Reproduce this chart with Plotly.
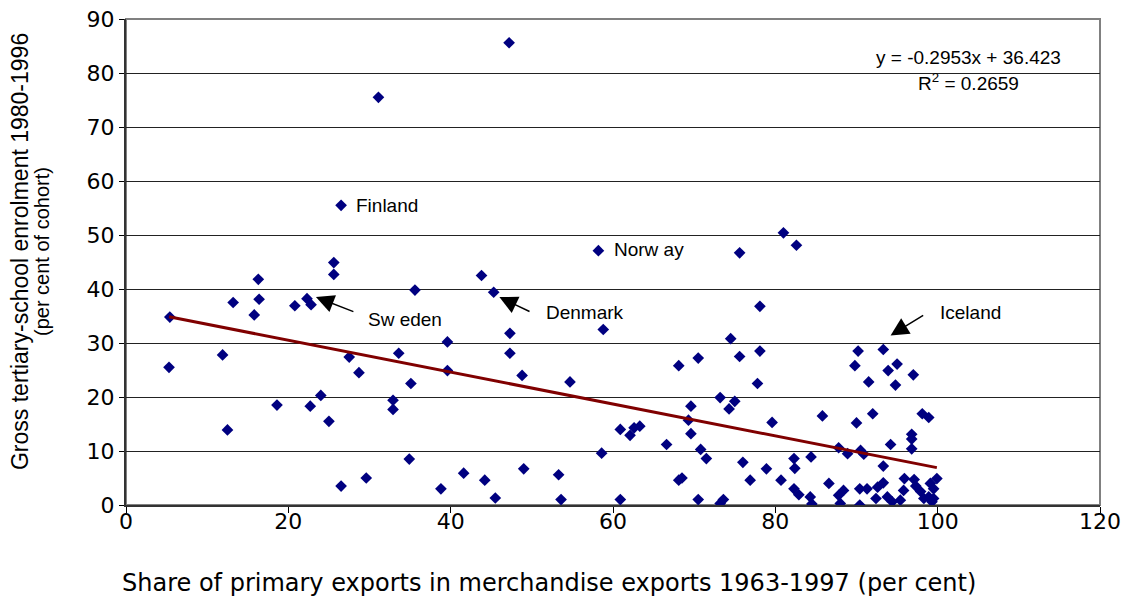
import plotly.graph_objects as go

# Share of primary exports (x) vs gross tertiary-school enrolment (y)
primary_share = [
    5.3, 5.4, 11.9, 12.5, 13.2, 15.8, 16.3, 16.4, 18.6, 20.8,
    22.3, 22.8, 22.7, 24.0, 25.0, 25.6, 25.6, 26.5, 26.5, 27.5,
    28.7, 29.6, 31.1, 32.9, 32.9, 33.6, 34.9, 35.1, 35.6, 38.8,
    39.6, 39.6, 41.6, 43.8, 44.2, 45.3, 45.5, 47.2, 47.3, 47.3,
    48.8, 49.0, 53.3, 53.6, 54.7, 58.2, 58.6, 58.8, 60.9, 60.9,
    62.1, 62.6, 63.3, 66.6, 68.1, 68.1, 68.5, 69.3, 69.6, 69.6,
    70.5, 70.5, 70.8, 71.5, 73.2, 73.2, 73.6, 74.3, 74.5, 75.0,
    75.6, 75.6, 76.0, 76.9, 77.8, 78.1, 78.1, 78.9, 79.6, 80.7,
    81.0, 82.6, 82.3, 82.4, 82.3, 82.9, 84.3, 84.4, 84.5, 85.8,
    86.6, 87.8, 87.8, 88.0, 88.4, 88.9, 89.8, 90.0, 90.2, 90.4,
    90.4, 90.5, 90.9, 91.3, 91.5, 92.0, 92.4, 92.6, 93.3, 93.3,
    93.3, 93.8, 93.9, 94.2, 94.4, 94.8, 95.0, 95.4, 95.8, 95.9,
    96.8, 96.8, 96.8, 97.0, 97.1, 97.3, 97.9, 98.1, 98.3, 98.9,
    98.9, 99.1, 99.3, 99.5, 99.5, 99.9,
]
enrolment = [
    25.5, 34.8, 27.8, 13.9, 37.5, 35.2, 41.8, 38.1, 18.5, 36.9,
    38.2, 37.1, 18.3, 20.3, 15.5, 44.9, 42.7, 55.5, 3.5, 27.4,
    24.5, 5.0, 75.5, 19.4, 17.7, 28.1, 8.5, 22.5, 39.8, 3.0,
    30.2, 24.9, 5.9, 42.5, 4.6, 39.4, 1.3, 85.6, 31.8, 28.1,
    24.0, 6.7, 5.6, 1.0, 22.8, 47.1, 9.6, 32.5, 14.0, 1.0,
    12.9, 14.3, 14.6, 11.2, 25.8, 4.6, 5.0, 15.7, 18.3, 13.2,
    27.2, 1.0, 10.3, 8.6, 19.9, 0.3, 1.0, 17.8, 30.8, 19.2,
    27.5, 46.7, 7.9, 4.6, 22.5, 36.8, 28.5, 6.7, 15.3, 4.6,
    50.4, 48.1, 8.6, 6.8, 3.0, 1.9, 1.5, 8.9, 0.2, 16.5,
    4.0, 10.6, 1.8, 0.3, 2.7, 9.5, 25.8, 15.2, 28.5, 3.0,
    0.0, 10.1, 9.4, 3.0, 22.8, 16.9, 1.2, 3.3, 28.8, 7.2,
    4.1, 1.5, 24.9, 11.2, 0.6, 22.2, 26.1, 0.9, 2.7, 4.9,
    13.1, 12.2, 10.4, 24.1, 4.7, 3.5, 2.5, 16.9, 1.2, 16.2,
    1.5, 4.0, 0.6, 1.2, 3.0, 4.9,
]

# linear trend reported on the chart
slope = -0.2953
intercept = 36.423
trend_x = [min(primary_share), max(primary_share)]
trend_y = [slope * v + intercept for v in trend_x]

x_ticks = [0, 20, 40, 60, 80, 100, 120]
y_ticks = [0, 10, 20, 30, 40, 50, 60, 70, 80, 90]

FONT = "Liberation Sans, Arial, sans-serif"
WIDE = "DejaVu Sans, Verdana, sans-serif"

fig = go.Figure()

fig.add_trace(go.Scatter(
    x=primary_share, y=enrolment, mode='markers',
    marker=dict(symbol='diamond', size=9, color='#000080'),
    showlegend=False, hoverinfo='x+y'
))

fig.add_trace(go.Scatter(
    x=trend_x, y=trend_y, mode='lines',
    line=dict(color='#800000', width=3),
    showlegend=False, hoverinfo='skip'
))

txt = dict(size=19, color='black', family=FONT)
annotations = [
    dict(x=28.1, y=55.5, text="Finland", showarrow=False, xanchor='left', font=txt),
    dict(x=59.9, y=47.3, text="Norw ay", showarrow=False, xanchor='left', font=txt),
    dict(x=34.4, y=34.3, text="Sw eden", showarrow=False, font=txt),
    dict(x=56.5, y=35.6, text="Denmark", showarrow=False, font=txt),
    dict(x=104.1, y=35.6, text="Iceland", showarrow=False, font=txt),
    dict(x=115.5, y=82.9, text="y = -0.2953x + 36.423", showarrow=False,
         xanchor='right', font=txt),
    dict(x=103.8, y=78.3, text="R<sup>2</sup> = 0.2659", showarrow=False, font=txt),
    # axis titles
    dict(x=0.434, y=-0.1605, xref='paper', yref='paper', showarrow=False,
         xanchor='center', yanchor='middle',
         text="Share of primary exports in merchandise exports 1963-1997 (per cent)",
         font=dict(size=24, color='black', family=WIDE)),
    dict(x=-0.1088, y=0.5206, xref='paper', yref='paper', showarrow=False, textangle=-90,
         xanchor='center', yanchor='middle',
         text="Gross tertiary-school enrolment 1980-1996", font=dict(size=23, color='black', family=FONT)),
    dict(x=-0.0862, y=0.5206, xref='paper', yref='paper', showarrow=False, textangle=-90,
         xanchor='center', yanchor='middle',
         text="(per cent of cohort)", font=dict(size=20, color='black', family=FONT)),
]
# arrows: (head_x, head_y, tail_x, tail_y)
arrows = [(23.4, 38.5, 28.2, 35.7), (46.0, 38.5, 49.9, 35.7), (94.2, 31.4, 98.4, 35.3)]
for hx, hy, tx, ty in arrows:
    annotations.append(dict(
        x=hx, y=hy, ax=tx, ay=ty, xref='x', yref='y', axref='x', ayref='y',
        text="", showarrow=True, arrowhead=2, arrowsize=2.4, arrowwidth=1.5,
        arrowcolor='black'
    ))

fig.update_layout(
    width=1133, height=602,
    margin=dict(l=118, r=41, t=11, b=105),
    paper_bgcolor='white', plot_bgcolor='white',
    font=dict(family=FONT, size=22, color='black'),
    annotations=annotations,
    shapes=[dict(type='rect', xref='paper', yref='paper', x0=0, y0=0, x1=1, y1=1,
                 line=dict(color='#808080', width=2), layer='below')],
    xaxis=dict(
        range=[0, 120], tickvals=x_ticks, showgrid=False, zeroline=False,
        showline=True, linecolor='#333333', linewidth=2,
        ticks='outside', ticklen=6, tickcolor='black',
        tickfont=dict(size=22, family=WIDE), ticklabelstandoff=-10,
        ticklabeloverflow='allow', automargin=False,
    ),
    yaxis=dict(
        range=[0, 90], tickvals=y_ticks, showgrid=True, gridcolor='#222222', gridwidth=1,
        zeroline=False, showline=True, linecolor='#333333', linewidth=2,
        ticks='outside', ticklen=5, tickcolor='black',
        tickfont=dict(size=22, family=WIDE), ticklabeloverflow='allow', automargin=False,
    ),
)

fig.write_html("out.html")
